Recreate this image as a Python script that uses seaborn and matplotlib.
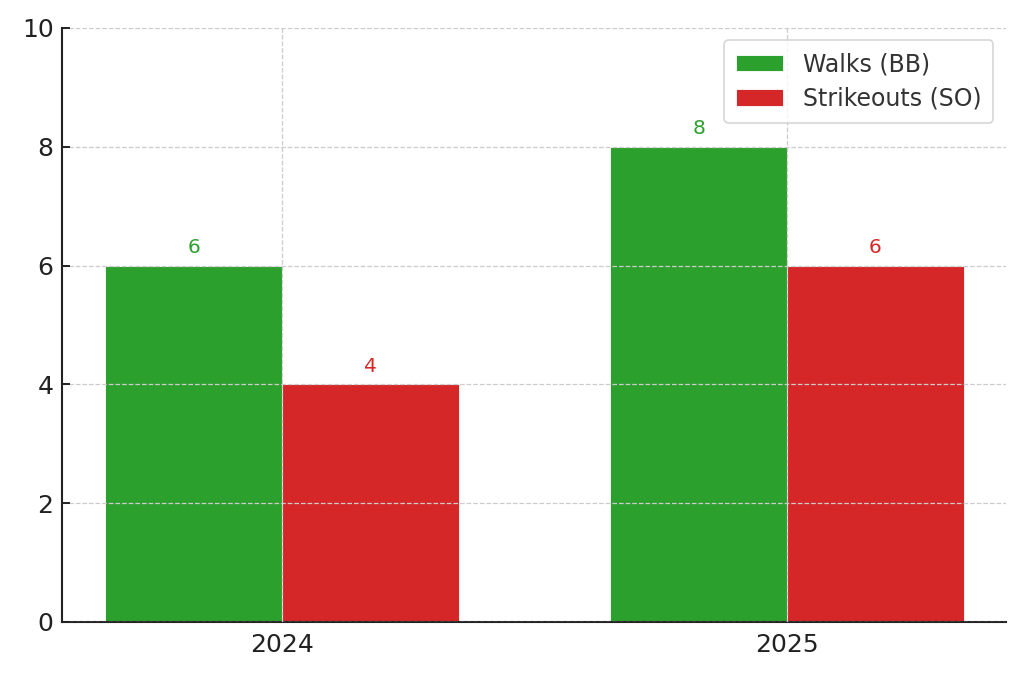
import matplotlib
matplotlib.use("Agg")
import matplotlib.pyplot as plt
import pandas as pd
import seaborn as sns

years = ["2024", "2025"]
walks = [6, 8]
strikeouts = [4, 6]
series_names = ["Walks (BB)", "Strikeouts (SO)"]
series_colors = ["#2ca02c", "#d62728"]

df = pd.DataFrame({
    "year": years * 2,
    "count": walks + strikeouts,
    "stat": [series_names[0]] * len(years) + [series_names[1]] * len(years),
})

sns.set_style("white")
fig = plt.figure(figsize=(10.24, 6.76), dpi=100)
ax = fig.add_axes([0.0605, 0.0799, 0.922, 0.8787])

sns.barplot(data=df, x="year", y="count", hue="stat", palette=series_colors,
            saturation=1, width=0.7, gap=0, edgecolor="white", linewidth=0.6, ax=ax)

# value labels in the colour of their series
for container, color in zip(ax.containers, series_colors):
    ax.bar_label(container, padding=6, color=color, fontsize=14.5)

ax.set_xlim(-0.436, 1.434)
ax.set_ylim(0, 10)
ax.set_xlabel("")
ax.set_ylabel("")
ax.tick_params(axis="both", labelsize=18, colors="#222222", width=1.4)
ax.tick_params(axis="y", left=True, direction="in", length=6, pad=6)
ax.tick_params(axis="x", length=0, pad=8)
for side in ["top", "right"]:
    ax.spines[side].set_visible(False)
for side in ["left", "bottom"]:
    ax.spines[side].set_color("#222222")
    ax.spines[side].set_linewidth(1.5)

ax.grid(True, linestyle="--", color="#cccccc", linewidth=0.9)
ax.set_axisbelow(False)

leg = ax.legend(loc="upper right", fontsize=17, handlelength=2.0, frameon=True,
                borderpad=0.5, labelspacing=0.45, handletextpad=0.85,
                bbox_to_anchor=(0.999, 0.999))
leg.get_frame().set_edgecolor("#cccccc")
leg.get_frame().set_linewidth(1.2)
for t in leg.get_texts():
    t.set_color("#333333")

fig.savefig("out.png", dpi=100)
